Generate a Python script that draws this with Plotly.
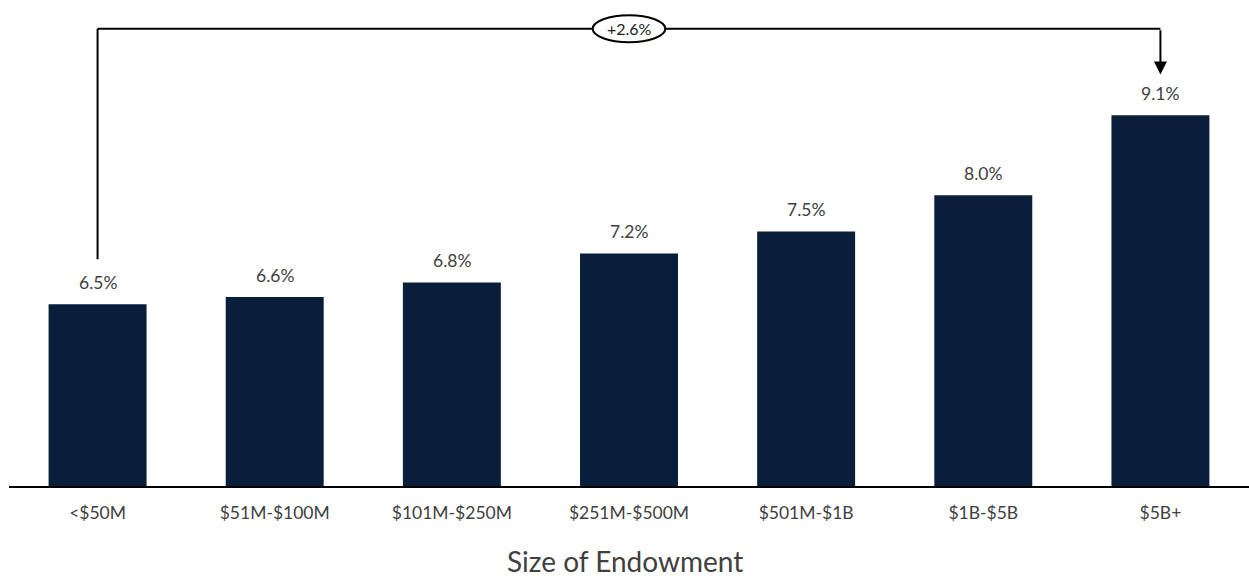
import plotly.graph_objects as go

categories = ["<$50M", "$51M-$100M", "$101M-$250M", "$251M-$500M", "$501M-$1B", "$1B-$5B", "$5B+"]
values = [6.5, 6.6, 6.8, 7.2, 7.5, 8.0, 9.1]
labels = ["6.5%", "6.6%", "6.8%", "7.2%", "7.5%", "8.0%", "9.1%"]
change_label = "+2.6%"
axis_title = "Size of Endowment"

BAR = "#081E3B"
TXT = "#404040"
FONT = "Lato"

y_min = 4.0
px_per_unit = 72.69
plot_h = 486
y_max = y_min + plot_h / px_per_unit

fig = go.Figure()
fig.add_trace(go.Bar(x=categories, y=values, marker_color=BAR, marker_line_width=0,
                     hoverinfo="skip"))

# value labels above bars
for c, v, t in zip(categories, values, labels):
    fig.add_annotation(x=c, y=v, text=t, showarrow=False, yshift=22,
                       font=dict(family=FONT, size=17.5, color=TXT))

# bracket from first bar to last bar
i0, i1 = 0, len(values) - 1
top = max(values) + 1.19
left_bottom = values[i0] + 0.62
tip = values[i1] + 0.56
mid = (i0 + i1) / 2
line = dict(color="black", width=2)
fig.add_shape(type="line", x0=i0, x1=i0, y0=left_bottom, y1=top, xref="x", yref="y", line=line)
fig.add_shape(type="line", x0=i0, x1=i1, y0=top, y1=top, xref="x", yref="y", line=line)
fig.add_shape(type="circle", x0=mid - 0.205, x1=mid + 0.205, y0=top - 0.185, y1=top + 0.185,
              xref="x", yref="y", line=line, fillcolor="white")
fig.add_annotation(x=i1, y=tip, ax=i1, ay=top, xref="x", yref="y", axref="x", ayref="y",
                   text="", showarrow=True, arrowhead=2, arrowsize=1.3, arrowwidth=2,
                   arrowcolor="black")
fig.add_annotation(x=mid, y=top, xref="x", yref="y", text=change_label, showarrow=False,
                   font=dict(family=FONT, size=16, color="#222222"))

fig.add_annotation(x=0.5, y=(plot_h - 561) / plot_h, xref="paper", yref="paper",
                   text=axis_title, showarrow=False, yanchor="middle", xshift=-4,
                   font=dict(family=FONT, size=28, color=TXT))

fig.update_layout(
    width=1249, height=579,
    margin=dict(l=9, r=0, t=0, b=579 - plot_h),
    plot_bgcolor="white", paper_bgcolor="white",
    bargap=0.447,
    showlegend=False,
    font=dict(family=FONT, color=TXT),
)
fig.update_xaxes(showline=True, linecolor="black", linewidth=2, ticks="",
                 tickfont=dict(family=FONT, size=17.5, color=TXT), ticklabelstandoff=10,
                 showgrid=False, zeroline=False)
fig.update_yaxes(range=[y_min, y_max], visible=False, showgrid=False, zeroline=False)

fig.write_html("out.html")
